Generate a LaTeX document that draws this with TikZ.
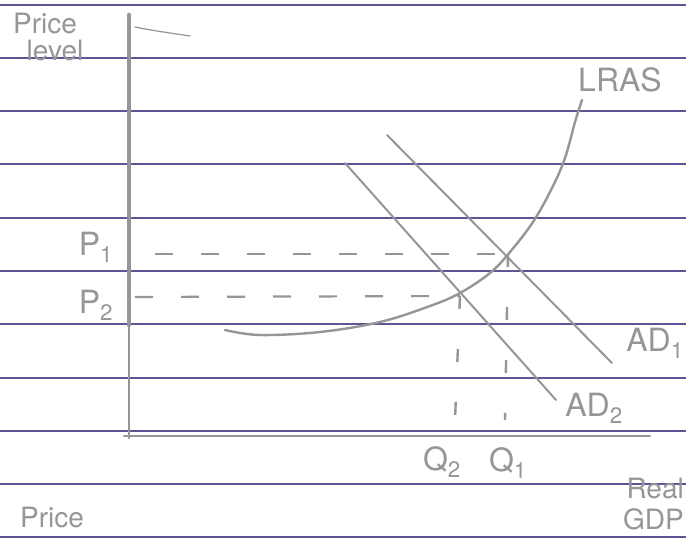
\documentclass[tikz,border=0pt]{standalone}
\usepackage{fontspec}
\setmainfont{TeX Gyre Heros}
\definecolor{rulecol}{RGB}{95,85,150}
\definecolor{pencil}{RGB}{150,150,150}
\tikzset{
  ruled/.style={draw=rulecol,line width=1.4pt},
  pen/.style={draw=pencil,line width=2.4pt,line cap=round,line join=round},
  guide/.style={draw=pencil,line width=2.2pt,dash pattern=on 18pt off 28pt},
  vguide/.style={draw=pencil,line width=2.4pt,dash pattern=on 13pt off 40pt},
  hand/.style={text=pencil,font=\fontsize{32}{34}\selectfont,inner sep=0pt},
  handsm/.style={text=pencil,font=\fontsize{28}{30}\selectfont,inner sep=0pt}
}
\begin{document}
\begin{tikzpicture}[x=1pt,y=-1pt]
\useasboundingbox (0,0) rectangle (686,539);
\clip (0,0) rectangle (686,539);
\fill[white] (0,0) rectangle (686,539);
% ruled paper
\foreach \yy in {5,58,111,164,218,271,324,378,431,484,537}
  \draw[ruled] (0,\yy) -- (686,\yy);
% axes
\coordinate (top) at (129,15);
\coordinate (mid) at (129,325);
\coordinate (origin) at (129,438);
\coordinate (xend) at (650,436);
\coordinate (xstart) at (124,436);
\coordinate (flagA) at (135,27);
\coordinate (flagB) at (190,36);
\draw[pen,line width=4.5pt] (top) -- (mid);
\draw[pen,line width=2pt] (mid) -- (origin);
\draw[pen,line width=2pt] (xstart) -- (xend);
\draw[pen,line width=1.2pt] (flagA) .. controls (150,30) .. (flagB);
% LRAS
\draw[pen] plot[smooth,tension=0.6] coordinates {(225,330) (260,335) (320,332) (380,322) (430,306) (460,293) (490,273) (510,252) (533,222) (552,188) (565,158) (575,122) (582,100)};
% AD curves
\coordinate (ad1a) at (387,135);
\coordinate (ad1b) at (612,363);
\coordinate (ad2a) at (345,163);
\coordinate (ad2b) at (556,400);
\draw[pen,line width=2pt] (ad1a) -- (ad1b);
\draw[pen,line width=2pt] (ad2a) -- (ad2b);
% equilibria and guides
\coordinate (E1) at (508,254);
\coordinate (E2) at (460,296);
\coordinate (p1s) at (155,254);
\coordinate (p2s) at (135,297);
\coordinate (q1e) at (505,420);
\coordinate (q2e) at (455,420);
\draw[guide] (p1s) -- (E1);
\draw[guide] (p2s) -- (E2);
\draw[vguide] (E1) -- (q1e);
\draw[vguide] (E2) -- (q2e);
% labels
\node[handsm] (price) at (45,24) {Price};
\node[handsm] (level) at (55,50) {level};
\node[hand] (lras) at (620,80) {LRAS};
\node[hand] (p1) at (96,247) {P\textsubscript{1}};
\node[hand] (p2) at (96,305) {P\textsubscript{2}};
\node[hand] (q2) at (442,462) {Q\textsubscript{2}};
\node[hand] (q1) at (508,463) {Q\textsubscript{1}};
\node[hand] (ad2) at (594,408) {AD\textsubscript{2}};
\node[hand,anchor=east] (ad1) at (684,343) {AD\textsubscript{1}};
\node[handsm,anchor=east] (real) at (684,488) {Real};
\node[handsm,anchor=east] (gdp) at (684,519) {GDP};
\node[handsm] (price2) at (52,517) {Price};
\end{tikzpicture}
\end{document}
